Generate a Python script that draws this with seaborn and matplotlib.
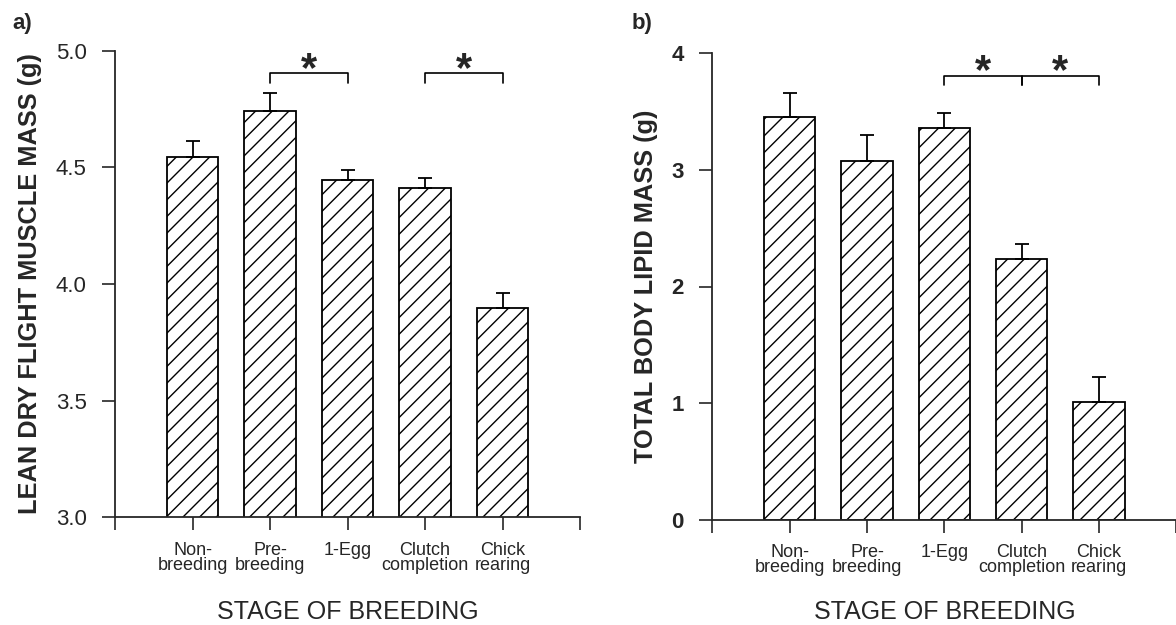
import numpy as np
import pandas as pd
import matplotlib
matplotlib.use("Agg")
import matplotlib.pyplot as plt
import seaborn as sns

"""Data read off the figure"""
stages = ["Non-\nbreeding", "Pre-\nbreeding", "1-Egg", "Clutch\ncompletion", "Chick\nrearing"]

muscle_mean = [4.546, 4.743, 4.447, 4.413, 3.896]
muscle_se = [0.065, 0.077, 0.042, 0.043, 0.065]

lipid_mean = [3.454, 3.074, 3.357, 2.232, 1.012]
lipid_se = [0.203, 0.226, 0.131, 0.130, 0.216]

# significance brackets: (left bar, right bar), bracket height
muscle_sig = [((1, 2), 4.903), ((3, 4), 4.903)]
lipid_sig = [((2, 3), 3.806), ((3, 4), 3.806)]

muscle_ticks = [3.0, 3.5, 4.0, 4.5, 5.0]
lipid_ticks = [0, 1, 2, 3, 4]

sns.set_style("white")
plt.rcParams["font.family"] = ["Liberation Sans", "DejaVu Sans"]
plt.rcParams["hatch.linewidth"] = 1.0
plt.rcParams["hatch.color"] = "black"


def panel(ax, means, ses, sig, yticks, ylabel, tick_weight, drop, star_off, xpad):
    df = pd.DataFrame({"stage": stages, "mean": means, "se": ses})
    sns.barplot(data=df, x="stage", y="mean", order=stages, color="white",
                edgecolor="black", linewidth=1.3, hatch="//", width=0.66,
                errorbar=None, ax=ax)
    for p in ax.patches:
        p.set_facecolor("white")
    ax.errorbar(np.arange(len(stages)), df["mean"], yerr=[np.zeros(len(stages)), df["se"]],
                fmt="none", ecolor="black", elinewidth=1.3, capsize=5, capthick=1.3, zorder=1)

    # brackets
    for (i, j), h in sig:
        ax.plot([i, i, j, j], [h - drop, h, h, h - drop], color="black", lw=1.2, clip_on=False)
        ax.text((i + j) / 2, h + star_off, "*", ha="center", va="center",
                fontsize=30, fontweight="bold")

    ax.set_xlim(-1, 5)
    ax.set_ylim(yticks[0], yticks[-1])
    ax.set_xticks(range(-1, 6))
    ax.set_xticklabels([""] + stages + [""], fontsize=13, linespacing=0.85)
    ax.set_yticks(yticks)
    if isinstance(yticks[0], float):
        ax.set_yticklabels([f"{t:.1f}" for t in yticks], fontsize=16, fontweight=tick_weight)
    else:
        ax.set_yticklabels([str(t) for t in yticks], fontsize=16, fontweight=tick_weight)
    ax.tick_params(axis="x", direction="out", length=9.5, width=1.2, pad=8, bottom=True)
    ax.tick_params(axis="y", direction="out", length=9.5, width=1.2, pad=11, left=True)
    sns.despine(ax=ax)
    ax.spines["left"].set_linewidth(1.3)
    ax.spines["bottom"].set_linewidth(1.3)
    ax.set_xlabel("STAGE OF BREEDING", fontsize=18, labelpad=xpad)
    ax.set_ylabel(ylabel, fontsize=18.3, fontweight="bold", labelpad=10)


fig = plt.figure(figsize=(11.76, 6.25), dpi=100)
ax1 = fig.add_axes([0.0978, 0.1723, 0.3954, 0.7466])
ax2 = fig.add_axes([0.6057, 0.1685, 0.3946, 0.7462])

panel(ax1, muscle_mean, muscle_se, muscle_sig, muscle_ticks,
      "LEAN DRY FLIGHT MUSCLE MASS (g)", "normal", 0.040, 0.013, 19)
panel(ax2, lipid_mean, lipid_se, lipid_sig, lipid_ticks,
      "TOTAL BODY LIPID MASS (g)", "bold", 0.078, 0.035, 17)

fig.text(0.0102, 0.9616, "a)", fontsize=16, fontweight="bold", ha="left", va="center")
fig.text(0.5374, 0.9616, "b)", fontsize=16, fontweight="bold", ha="left", va="center")

fig.savefig("out.png", dpi=100)
